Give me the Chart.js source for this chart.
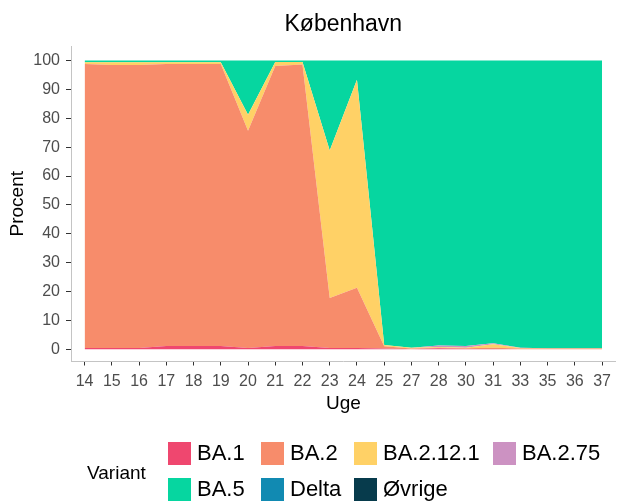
<!DOCTYPE html>
<html>
<head>
<meta charset="utf-8">
<script src="https://cdn.jsdelivr.net/npm/chart.js@4.4.0/dist/chart.umd.min.js"></script>
<style>
  body { margin: 0; background: #fff; }
  #wrap { width: 617px; height: 504px; }
</style>
</head>
<body>
<div id="wrap"><canvas id="chart" width="617" height="504"></canvas></div>
<script>
const weeks = ['14', '15', '16', '17', '18', '19', '20', '21', '22', '23', '24', '25', '27', '28', '30', '31', '33', '35', '36', '37'];
const yTicks = [0, 10, 20, 30, 40, 50, 60, 70, 80, 90, 100];

const variants = ['BA.1', 'BA.2', 'BA.2.12.1', 'BA.2.75', 'BA.5', 'Delta', 'Øvrige'];
const colors = ['#EF476F', '#F78C6B', '#FFD166', '#CC92C2', '#06D6A0', '#118AB2', '#073B4C'];

// percent per week
const ba1 =    [0.5, 0.5, 0.5, 1.2, 1.2, 1.2, 0.5, 1.2, 1.2, 0.5, 0.5, 0.3, 0.0, 0.4, 0.1, 0.1, 0.0, 0.0, 0.0, 0.0];
const ba2 =    [98.3, 97.9, 97.9, 97.6, 97.6, 97.6, 75.2, 96.9, 97.4, 17.3, 20.8, 0.8, 0.3, 0.2, 0.3, 0.5, 0.3, 0.3, 0.3, 0.3];
const ba2121 = [0.6, 1.0, 1.0, 0.6, 0.6, 0.6, 5.5, 1.4, 0.9, 51.0, 72.0, 0.4, 0.3, 0.2, 0.2, 1.2, 0.2, 0.1, 0.1, 0.1];
const ba275 =  [0, 0, 0, 0, 0, 0, 0, 0, 0, 0, 0, 0, 0.0, 0.5, 0.6, 0.3, 0.1, 0, 0, 0];
const ba5 =    [0.6, 0.6, 0.6, 0.6, 0.6, 0.6, 18.8, 0.5, 0.5, 31.2, 6.7, 98.5, 99.4, 98.7, 98.8, 97.9, 99.4, 99.6, 99.6, 99.6];
const delta =  [0, 0, 0, 0, 0, 0, 0, 0, 0, 0, 0, 0, 0, 0, 0, 0, 0, 0, 0, 0];
const oevrige = [0, 0, 0, 0, 0, 0, 0, 0, 0, 0, 0, 0, 0, 0, 0, 0, 0, 0, 0, 0];

const series = [ba1, ba2, ba2121, ba275, ba5, delta, oevrige];

const FONT = "'Liberation Sans', Arial, sans-serif";
const tickColor = '#4d4d4d';

// ggplot style legend below the plot, two rows
const legendPlugin = {
    id: 'ggLegend',
    afterDraw(chart) {
        const ctx = chart.ctx;
        const colX = [168, 261, 354, 493];
        const rowY = [442, 478];
        ctx.save();
        ctx.textBaseline = 'middle';
        ctx.fillStyle = '#000';
        ctx.font = '19px ' + FONT;
        ctx.fillText('Variant', 87, 474);
        ctx.font = '22px ' + FONT;
        chart.data.datasets.forEach((ds, i) => {
            const x = colX[i % 4];
            const y = rowY[Math.floor(i / 4)];
            ctx.fillStyle = ds.backgroundColor;
            ctx.fillRect(x, y, 23, 23);
            ctx.fillStyle = '#000';
            ctx.fillText(ds.label, x + 29, y + 12);
        });
        ctx.restore();
    }
};

const datasets = variants.map((name, i) => ({
    label: name,
    data: series[i],
    backgroundColor: colors[i],
    borderWidth: 0,
    pointRadius: 0,
    tension: 0,
    fill: i === 0 ? 'origin' : '-1'
}));

new Chart(document.getElementById('chart'), {
    type: 'line',
    data: { labels: weeks, datasets: datasets },
    options: {
        responsive: false,
        animation: false,
        layout: { padding: { left: 6, right: 0, top: 0, bottom: 88.5 } },
        plugins: {
            legend: { display: false },
            tooltip: { enabled: false },
            title: {
                display: true,
                text: 'København',
                fullSize: false,
                color: '#000',
                font: { family: FONT, size: 23, weight: 'normal' },
                padding: { top: 11, bottom: 7.4 }
            }
        },
        scales: {
            x: {
                offset: true,
                afterFit(s) { s.height = 54; },
                grid: { offset: false, drawOnChartArea: false, tickLength: 4, color: '#333' },
                border: { display: true, color: '#c4c4c4', width: 1 },
                ticks: { autoSkip: false, maxRotation: 0, padding: 6, color: tickColor, font: { family: FONT, size: 16 } },
                title: { display: true, text: 'Uge', color: '#000', padding: 0, font: { family: FONT, size: 19 } }
            },
            y: {
                stacked: true,
                min: -4.2,
                max: 105,
                afterFit(s) { s.width = 65; },
                afterBuildTicks(s) { s.ticks = yTicks.map(v => ({ value: v })); },
                grid: { drawOnChartArea: false, tickLength: 5, color: '#333' },
                border: { display: true, color: '#c4c4c4', width: 1 },
                ticks: { padding: 6, color: tickColor, font: { family: FONT, size: 16 } },
                title: { display: true, text: 'Procent', color: '#000', padding: 0, font: { family: FONT, size: 19 } }
            }
        }
    },
    plugins: [legendPlugin]
});
</script>
</body>
</html>
